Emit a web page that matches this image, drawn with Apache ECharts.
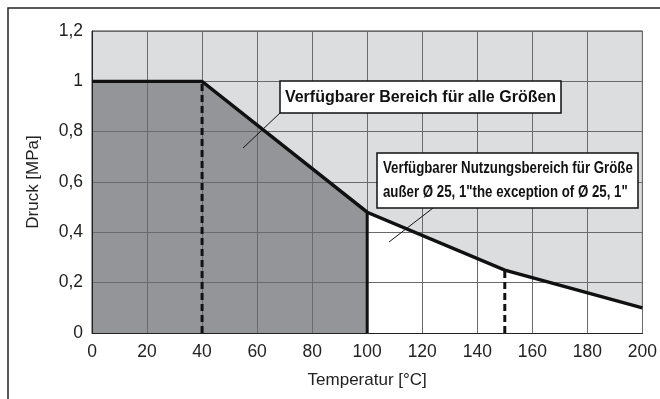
<!DOCTYPE html>
<html>
<head>
<meta charset="utf-8">
<script src="https://cdn.jsdelivr.net/npm/echarts@6/dist/echarts.min.js"></script>
<style>
  html, body { margin: 0; padding: 0; background: #ffffff; }
  #chart { width: 660px; height: 399px; }
</style>
</head>
<body>
<div id="chart"></div>
<script>
// Pressure limit curve: temperature [°C] vs. pressure [MPa]
const temps = [0, 40, 100, 150, 200];
const pressure = [1, 1, 0.48, 0.25, 0.1];

// Vertical reference lines (temperature, dashed?)
const markerTemps = [40, 100, 150];
const markerDashed = [true, false, true];

// Temperature where the range for all sizes ends
const allSizesLimit = 100;

// Axis tick labels
const xTickLabels = ['0', '20', '40', '60', '80', '100', '120', '140', '160', '180', '200'];
const yTickLabels = ['0', '0,2', '0,4', '0,6', '0,8', '1', '1,2'];

const labelAllSizes = 'Verfügbarer Bereich für alle Größen';
const labelExceptLine1 = 'Verfügbarer Nutzungsbereich für Größe';
const labelExceptLine2 = 'außer Ø 25, 1"the exception of Ø 25, 1"';

const curve = temps.map((t, i) => [t, pressure[i]]);
const darkRegion = curve.filter(p => p[0] <= allSizesLimit);
const whiteRegion = curve.filter(p => p[0] >= allSizesLimit);

function pressureAt(t) {
  const i = temps.indexOf(t);
  return pressure[i];
}

const FONT = '"Liberation Sans", Arial, Helvetica, sans-serif';

const markerSeries = markerTemps.map((t, i) => ({
  type: 'line',
  data: [[t, 0], [t, pressureAt(t)]],
  symbol: 'none',
  silent: true,
  z: 5,
  lineStyle: { color: '#111', width: 3, type: markerDashed[i] ? [7, 4] : 'solid' }
}));

const chart = echarts.init(document.getElementById('chart'), null, { renderer: 'canvas' });

chart.setOption({
  animation: false,
  backgroundColor: '#ffffff',
  grid: {
    left: 92, right: 17, top: 31, bottom: 66,
    show: true,
    backgroundColor: '#dcdddf',
    borderColor: '#333',
    borderWidth: 1
  },
  xAxis: {
    type: 'value',
    min: 0, max: 200, interval: 20,
    z: 3,
    name: 'Temperatur [°C]',
    nameLocation: 'middle',
    nameGap: 39,
    nameTextStyle: { fontFamily: FONT, fontSize: 17, color: '#222' },
    axisLine: { show: true, lineStyle: { color: '#222', width: 1 } },
    axisTick: { show: false },
    axisLabel: {
      fontFamily: FONT, fontSize: 17.5, color: '#222', margin: 10,
      formatter: v => xTickLabels[Math.round(v / 20)]
    },
    splitLine: { show: true, lineStyle: { color: '#6a6a6a', width: 1 } }
  },
  yAxis: {
    type: 'value',
    min: 0, max: 1.2, interval: 0.2,
    z: 3,
    name: 'Druck [MPa]',
    nameLocation: 'middle',
    nameGap: 50,
    nameTextStyle: { fontFamily: FONT, fontSize: 17, color: '#222' },
    axisLine: { show: true, lineStyle: { color: '#222', width: 1 } },
    axisTick: { show: false },
    axisLabel: {
      fontFamily: FONT, fontSize: 17.5, color: '#222', margin: 9,
      formatter: v => yTickLabels[Math.round(v / 0.2)]
    },
    splitLine: { show: true, lineStyle: { color: '#6a6a6a', width: 1 } }
  },
  series: [
    {
      type: 'line',
      data: darkRegion,
      symbol: 'none',
      silent: true,
      z: 1,
      lineStyle: { width: 0 },
      areaStyle: { color: '#939598', opacity: 1 }
    },
    {
      type: 'line',
      data: whiteRegion,
      symbol: 'none',
      silent: true,
      z: 1,
      lineStyle: { width: 0 },
      areaStyle: { color: '#ffffff', opacity: 1 }
    },
    ...markerSeries,
    {
      type: 'line',
      data: curve,
      symbol: 'none',
      silent: true,
      z: 6,
      lineStyle: { color: '#111', width: 3.4, join: 'miter' }
    }
  ]
});

// Outer frame and annotation callouts
chart.setOption({
  graphic: [
    {
      type: 'rect',
      shape: { x: 8, y: 8, width: 700, height: 500 },
      style: { fill: 'none', stroke: '#222', lineWidth: 1.5 },
      silent: true, z: 1
    },
    {
      type: 'line',
      shape: { x1: 280, y1: 113, x2: 243, y2: 148 },
      style: { stroke: '#111', lineWidth: 1 },
      z: 20
    },
    {
      type: 'rect',
      shape: { x: 280, y: 81, width: 281, height: 32 },
      style: { fill: '#ffffff', stroke: '#111', lineWidth: 1.5 },
      z: 20
    },
    {
      type: 'text',
      x: 420.5, y: 97.5,
      style: {
        text: labelAllSizes,
        font: 'bold 16px ' + FONT,
        fill: '#111',
        textAlign: 'center',
        textVerticalAlign: 'middle'
      },
      z: 21
    },
    {
      type: 'line',
      shape: { x1: 433, y1: 208, x2: 389, y2: 242 },
      style: { stroke: '#111', lineWidth: 1 },
      z: 20
    },
    {
      type: 'rect',
      shape: { x: 377, y: 153, width: 261, height: 55 },
      style: { fill: '#ffffff', stroke: '#111', lineWidth: 1.5 },
      z: 20
    },
    {
      type: 'text',
      x: 383, y: 168,
      scaleX: 0.78,
      style: {
        text: labelExceptLine1,
        font: 'bold 17px ' + FONT,
        fill: '#111',
        textAlign: 'left',
        textVerticalAlign: 'middle'
      },
      z: 21
    },
    {
      type: 'text',
      x: 383, y: 192.5,
      scaleX: 0.78,
      style: {
        text: labelExceptLine2,
        font: 'bold 17px ' + FONT,
        fill: '#111',
        textAlign: 'left',
        textVerticalAlign: 'middle'
      },
      z: 21
    }
  ]
});
</script>
</body>
</html>
